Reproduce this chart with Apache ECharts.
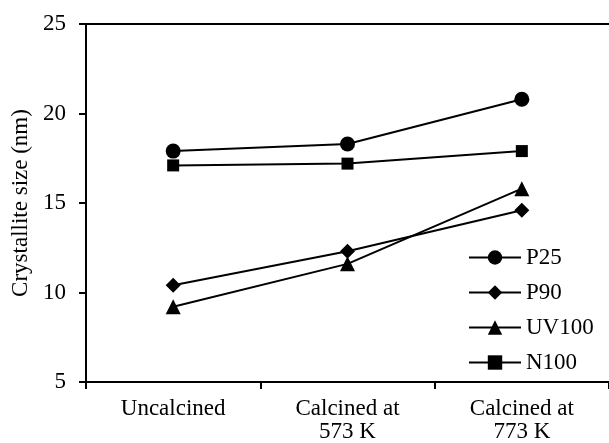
<!DOCTYPE html>
<html>
<head>
<meta charset="utf-8">
<script src="https://cdn.jsdelivr.net/npm/echarts@6/dist/echarts.min.js"></script>
<style>
  html, body { margin: 0; padding: 0; background: #fff; }
  #chart { width: 609px; height: 443px; }
</style>
</head>
<body>
<div id="chart"></div>
<script>
// categories and values
const categories = ['Uncalcined', 'Calcined at\n573 K', 'Calcined at\n773 K'];
const p25 = [17.9, 18.3, 20.8];
const p90 = [10.4, 12.3, 14.6];
const uv100 = [9.2, 11.6, 15.8];
const n100 = [17.1, 17.2, 17.9];

const font = 'Liberation Serif, Times New Roman, serif';

function lineSeries(name, data, symbol, size) {
    return {
        name: name,
        type: 'line',
        data: data,
        symbol: symbol,
        symbolSize: size,
        lineStyle: { color: '#000', width: 2 },
        itemStyle: { color: '#000' },
        emphasis: { disabled: true }
    };
}

const chart = echarts.init(document.getElementById('chart'));

let options = {
    animation: false,
    backgroundColor: '#fff',
    textStyle: { fontFamily: font, color: '#000' },
    grid: { left: 86, top: 24, bottom: 58, width: 526, containLabel: false },
    legend: {
        orient: 'vertical',
        left: 463,
        top: 241,
        itemWidth: 52,
        itemHeight: 18,
        itemGap: 12,
        lineStyle: { width: 2 },
        textStyle: { fontFamily: font, fontSize: 23, lineHeight: 23, color: '#000' },
        data: ['P25', 'P90', 'UV100', 'N100']
    },
    xAxis: [{
        type: 'category',
        data: categories,
        boundaryGap: true,
        axisLine: { lineStyle: { color: '#000', width: 2 } },
        axisTick: { show: true, length: 7, lineStyle: { color: '#000', width: 2 } },
        axisLabel: { fontFamily: font, fontSize: 23, color: '#000', margin: 15, lineHeight: 23 }
    }, {
        type: 'category',
        position: 'top',
        data: categories,
        axisLine: { lineStyle: { color: '#000', width: 2 } },
        axisTick: { show: false },
        axisLabel: { show: false }
    }],
    yAxis: {
        type: 'value',
        min: 5,
        max: 25,
        interval: 5,
        name: 'Crystallite size (nm)',
        nameLocation: 'middle',
        nameGap: 53,
        nameTextStyle: { fontFamily: font, fontSize: 23, color: '#000' },
        axisLine: { show: true, lineStyle: { color: '#000', width: 2 } },
        axisTick: { show: true, length: 7, lineStyle: { color: '#000', width: 2 } },
        splitLine: { show: false },
        axisLabel: { fontFamily: font, fontSize: 23, color: '#000', margin: 20 }
    },
    series: [
        lineSeries('P25', p25, 'circle', 15),
        lineSeries('P90', p90, 'diamond', 15),
        lineSeries('UV100', uv100, 'triangle', 15),
        lineSeries('N100', n100, 'rect', 12)
    ]
};

chart.setOption(options);
</script>
</body>
</html>
